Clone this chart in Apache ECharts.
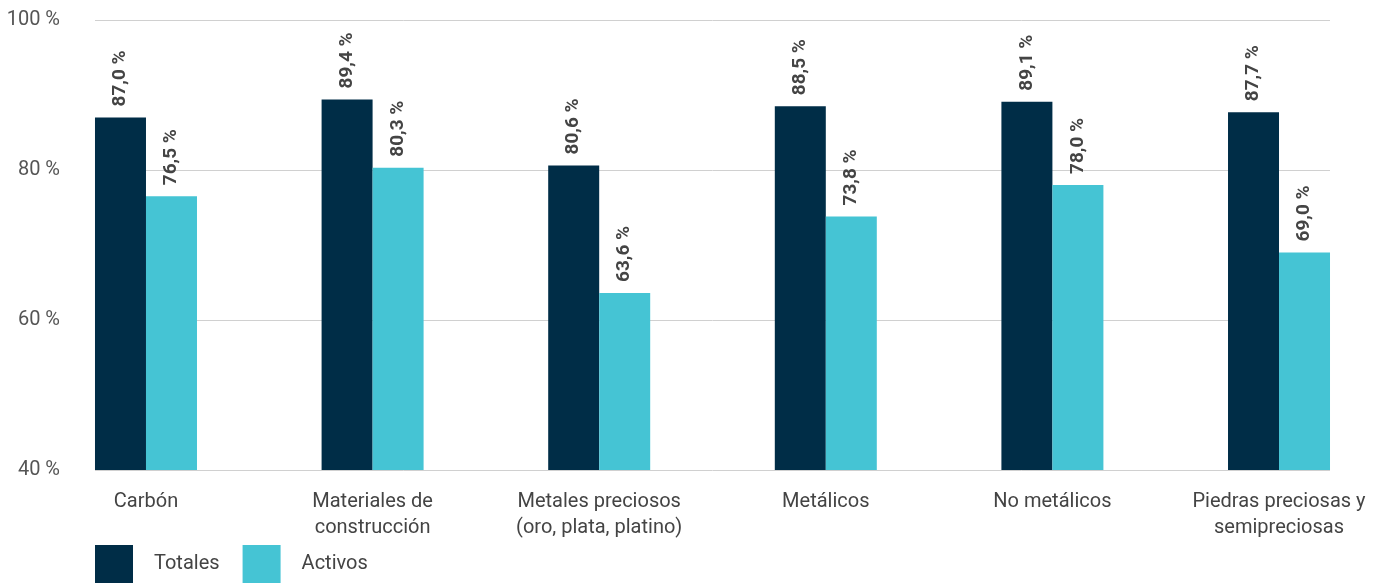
<!DOCTYPE html>
<html>
<head>
<meta charset="utf-8">
<script src="https://cdn.jsdelivr.net/npm/echarts@6/dist/echarts.min.js"></script>
<style>html,body{margin:0;padding:0;background:#fff}#c{width:1385px;height:583px}</style>
</head>
<body>
<div id="c"></div>
<script>
const categories = ['Carbón', 'Materiales de\nconstrucción', 'Metales preciosos\n(oro, plata, platino)', 'Metálicos', 'No metálicos', 'Piedras preciosas y\nsemipreciosas'];
const seriesNames = ['Totales', 'Activos'];
const totales = [87.0, 89.4, 80.6, 88.5, 89.1, 87.7];
const activos = [76.5, 80.3, 63.6, 73.8, 78.0, 69.0];
const yTicks = [40, 60, 80, 100];

const FONT = 'Roboto, "Noto Sans", sans-serif';
const fmt = v => v.toFixed(1).replace('.', ',') + ' %';
const chart = echarts.init(document.getElementById('c'), null, {renderer: 'canvas'});
const labelCfg = {
  show: true, position: 'top', rotate: 90, align: 'left', verticalAlign: 'middle',
  distance: 11, fontFamily: FONT, fontWeight: 'bold', fontSize: 19, color: '#444',
  formatter: p => fmt(p.value[1])
};
const pairs = arr => arr.map((v, i) => [i, v]);
chart.setOption({
  animation: false,
  color: ['#002D47', '#45C4D4'],
  grid: [
    {left: 95, right: 55, top: 20, bottom: 113},
    {left: 146, right: 106, top: 20, bottom: 113}
  ],
  xAxis: [
    {gridIndex: 0, type: 'value', min: -0.225, max: categories.length - 1 + 0.225, show: false},
    {gridIndex: 1, type: 'category', data: categories, boundaryGap: false,
     axisLine: {show: false}, axisTick: {show: false}, splitLine: {show: false},
     axisLabel: {interval: 0, margin: 19, fontFamily: FONT, fontSize: 20, lineHeight: 26, color: '#444'}}
  ],
  yAxis: [
    {gridIndex: 0, type: 'value', min: yTicks[0], max: yTicks[yTicks.length - 1], interval: 20,
     axisLine: {show: false}, axisTick: {show: false},
     axisLabel: {margin: 35, fontFamily: FONT, fontSize: 20, color: '#555', formatter: '{value} %'},
     splitLine: {lineStyle: {color: '#d0d0d0', width: 1}}},
    {gridIndex: 1, type: 'value', min: yTicks[0], max: yTicks[yTicks.length - 1], show: false}
  ],
  legend: {
    left: 95, top: 545, padding: 0, itemWidth: 38, itemHeight: 38, itemGap: 23, icon: 'rect',
    textStyle: {fontFamily: FONT, fontSize: 20, color: '#444', padding: [10, 0, 0, 16]},
    data: seriesNames
  },
  series: [
    {name: seriesNames[0], type: 'bar', xAxisIndex: 0, yAxisIndex: 0, data: pairs(totales),
     barWidth: 51, barGap: '0%', label: labelCfg},
    {name: seriesNames[1], type: 'bar', xAxisIndex: 0, yAxisIndex: 0, data: pairs(activos),
     barWidth: 51, barGap: '0%', label: labelCfg}
  ]
});
</script>
</body>
</html>
